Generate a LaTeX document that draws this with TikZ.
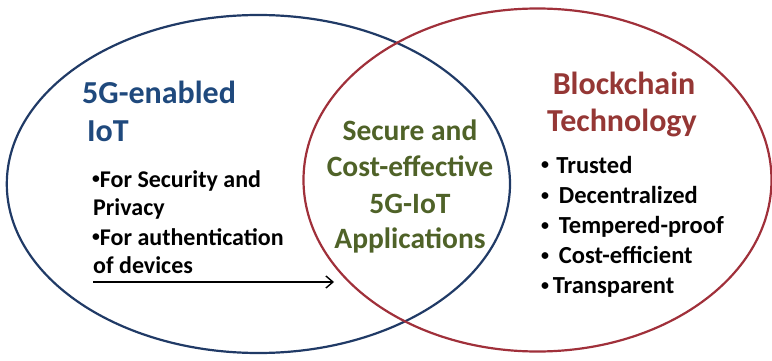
\documentclass[tikz,border=0pt]{standalone}
\usepackage{fontspec}
\setmainfont{Carlito}
\usetikzlibrary{arrows.meta}

\definecolor{ringblue}{HTML}{203A66}
\definecolor{ringred}{HTML}{A0303A}
\definecolor{iotblue}{HTML}{1F497D}
\definecolor{chainred}{HTML}{953735}
\definecolor{appgreen}{HTML}{4F6228}

% small bullet as in the figure
\newcommand{\dotmark}{\scalebox{0.65}{\raisebox{0.2em}{•}}}

\tikzset{
  ring/.style={line width=2.2pt},
  heading/.style={inner sep=0pt, font=\bfseries\fontsize{32}{38}\selectfont},
  middle/.style={inner sep=0pt, anchor=base, text=appgreen,
    font=\bfseries\fontsize{29.5}{35}\selectfont},
  bullet/.style={inner sep=0pt, anchor=base west,
    font=\bfseries\fontsize{24}{28}\selectfont},
  flow/.style={line width=1.4pt, -{Straight Barb[length=7pt,width=12pt]}}
}

\begin{document}
\begin{tikzpicture}[x=1pt,y=-1pt]
    \useasboundingbox (0,0) rectangle (772,361);
    % the two sets
    \draw[ring, ringblue] (258.4,184) ellipse [x radius=251.6pt, y radius=169pt];
    \draw[ring, ringred] (537.5,180) ellipse [x radius=234pt, y radius=171.5pt];
    % left set: 5G-enabled IoT
    \node[heading, anchor=base west, text=iotblue] (iot1) at (82,103) {5G-enabled};
    \node[heading, anchor=base west, text=iotblue] (iot2) at (87,142) {IoT};
    \node[bullet] (use1) at (92,187) {\dotmark For Security and};
    \node[bullet] (use2) at (93,215.5) {Privacy};
    \node[bullet] (use3) at (92,245) {\dotmark For authentication};
    \node[bullet] (use4) at (93,273) {of devices};
    \coordinate (flowtail) at (93,282);
    \coordinate (flowhead) at (334,282);
    \draw[flow] (flowtail) -- (flowhead);
    % overlap: applications
    \node[middle] (app1) at (410,140) {Secure and};
    \node[middle] (app2) at (410,176.7) {Cost-effective};
    \node[middle] (app3) at (410,213.3) {5G-IoT};
    \node[middle] (app4) at (410,248.5) {Applications};
    % right set: blockchain
    \node[heading, anchor=base, text=chainred] (bc1) at (624,95) {Blockchain};
    \node[heading, anchor=base, text=chainred] (bc2) at (622,131.7) {Technology};
    \foreach \txt [count=\i] in {\dotmark\hspace{0.3em}Trusted,
        \dotmark\hspace{0.4em}Decentralized, \dotmark\hspace{0.4em}Tempered-proof,
        \dotmark\hspace{0.4em}Cost-efficient, \dotmark\hspace{0.15em}Transparent}
      \node[bullet, font=\bfseries\fontsize{24.5}{28}\selectfont] (prop\i)
        at (541,{173+30.2*(\i-1)}) {\txt};
\end{tikzpicture}
\end{document}
